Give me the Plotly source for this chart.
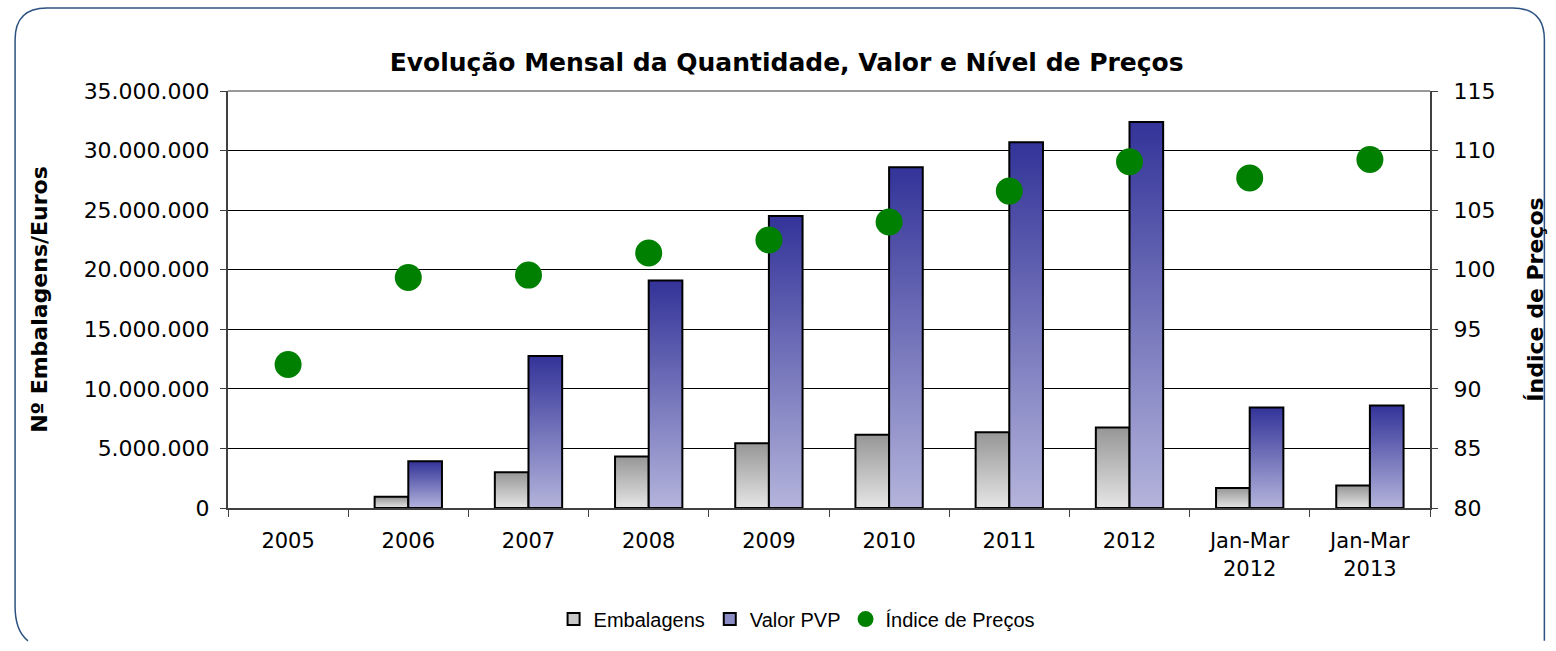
import plotly.graph_objects as go

# ---- data ----
categories = ["2005", "2006", "2007", "2008", "2009", "2010", "2011", "2012",
              "Jan-Mar<br>2012", "Jan-Mar<br>2013"]
embalagens = [0, 940000, 3000000, 4330000, 5440000, 6150000, 6350000, 6760000, 1680000, 1880000]
valor_pvp = [0, 3920000, 12750000, 19100000, 24500000, 28600000, 30700000, 32400000, 8440000, 8610000]
indice_precos = [92.05, 99.35, 99.55, 101.4, 102.5, 104.0, 106.6, 109.06, 107.7, 109.25]

left_ticks = [0, 5000000, 10000000, 15000000, 20000000, 25000000, 30000000, 35000000]
right_ticks = [80, 85, 90, 95, 100, 105, 110, 115]

# ---- styling ----
FONT = "DejaVu Sans"
BAR_W = 0.28
gray_scale = [[0, "#e6e6e6"], [1, "#969696"]]
blue_scale = [[0, "#b4b4dc"], [1, "#333399"]]

fig = go.Figure()


def add_bars(values, offset, name, scale, legend_color):
    # legend-only entry (square icon)
    fig.add_trace(go.Bar(
        x=[None], y=[None], name=name, legendgroup=name,
        marker=dict(color=legend_color, line=dict(color="#000000", width=2)),
    ))
    for i, v in enumerate(values):
        if v <= 0:
            continue
        x0 = i + offset
        x1 = x0 + BAR_W
        fig.add_trace(go.Scatter(
            x=[x0, x0, x1, x1, x0], y=[0, v, v, 0, 0],
            mode="lines", fill="toself",
            fillgradient=dict(type="vertical", colorscale=scale),
            fillcolor=legend_color,
            line=dict(color="#000000", width=2),
            name=name, legendgroup=name, showlegend=False,
            hovertemplate=f"{categories[i]}: {v:,}<extra>{name}</extra>",
            xaxis="x", yaxis="y",
        ))


add_bars(embalagens, -BAR_W, "Embalagens", gray_scale, "#c8c8c8")
add_bars(valor_pvp, 0.0, "Valor PVP", blue_scale, "#8c8cc4")

fig.add_trace(go.Scatter(
    x=list(range(len(categories))), y=indice_precos,
    mode="markers", name="Índice de Preços",
    marker=dict(color="#008000", size=27, line=dict(width=0)),
    yaxis="y2",
))

# ---- layout geometry (reference pixels, compensated for page scaling) ----
W, H = 1556, 651
SX, SY = 1565 / 1556, 657 / 651


def fx(x):
    return x * SX


def fy(y):
    return y * SY


L = round(fx(227))
R = round(W - fx(1439))
T = round(fy(90))
B = round(H - fy(513))
PW, PH = W - L - R, H - T - B


def px(xp):
    return (fx(xp) - L) / PW


def py(yp):
    return (H - B - fy(yp)) / PH


def pt(xp, yp):
    return f"{px(xp):.5f},{py(yp):.5f}"


r = 32
x0b, y0b, x1b = 12, 6, 1554
border = (f"M {pt(25, 648)} Q {pt(x0b, 638)} {pt(x0b, 613)} "
          f"L {pt(x0b, y0b + r)} Q {pt(x0b, y0b)} {pt(x0b + r, y0b)} "
          f"L {pt(x1b - r, y0b)} Q {pt(x1b, y0b)} {pt(x1b, y0b + r)} "
          f"L {pt(x1b, 648)}")

fig.update_layout(
    width=W, height=H, autosize=False,
    margin=dict(l=L, r=R, t=T, b=B, pad=0),
    paper_bgcolor="white", plot_bgcolor="white",
    separators=",.",
    font=dict(family=FONT, size=21, color="#000000"),
    title=dict(
        text="<b>Evolução Mensal da Quantidade, Valor e Nível de Preços</b>",
        x=px(790), xanchor="center", xref="paper",
        y=1 - fy(62) / H, yanchor="middle",
        font=dict(family=FONT, size=25, color="#000000"),
    ),
    showlegend=True,
    legend=dict(
        orientation="h", x=px(800), xanchor="center", y=py(626), yanchor="middle",
        font=dict(family="Liberation Sans", size=20, color="#000000"),
        itemwidth=30, tracegroupgap=0,
    ),
    barmode="overlay",
    xaxis=dict(
        range=[-0.5, len(categories) - 0.5],
        tickvals=list(range(len(categories))), ticktext=categories,
        ticks="", showgrid=False, zeroline=False,
        showline=True, linecolor="#404040", linewidth=2,
        tickfont=dict(family=FONT, size=21),
        ticklabelstandoff=13,
        minor=dict(tickvals=[i - 0.5 for i in range(len(categories) + 1)],
                   ticks="outside", ticklen=7, tickcolor="#404040", tickwidth=1,
                   showgrid=False),
        fixedrange=True,
    ),
    yaxis=dict(
        range=[0, 35000000], tickvals=left_ticks, tickformat=",d",
        showgrid=True, gridcolor="#000000", gridwidth=1,
        zeroline=False, showline=True, linecolor="#404040", linewidth=2,
        ticks="outside", ticklen=6, tickcolor="#404040",
        tickfont=dict(family=FONT, size=22),
        ticklabelstandoff=6,
        title=dict(text="<b>Nº Embalagens/Euros</b>", standoff=30,
                   font=dict(family=FONT, size=22)),
    ),
    yaxis2=dict(
        range=[80, 115], tickvals=right_ticks, overlaying="y", side="right",
        showgrid=False, zeroline=False, showline=True, linecolor="#404040", linewidth=2,
        ticks="outside", ticklen=6, tickcolor="#404040",
        tickfont=dict(family=FONT, size=22),
        ticklabelstandoff=11,
        title=dict(text="<b>Índice de Preços</b>", standoff=33,
                   font=dict(family=FONT, size=22)),
    ),
    shapes=[
        dict(type="line", xref="paper", yref="paper", x0=0, x1=1, y0=1, y1=1,
             line=dict(color="#9a9a9a", width=2), layer="above"),
        dict(type="path", xref="paper", yref="paper", path=border,
             line=dict(color="#2c5282", width=1.5), layer="below"),
    ],
)

fig.write_html("out.html", config={"displayModeBar": False, "responsive": False},
               post_script="document.body.style.margin='0';document.body.style.overflow='hidden';")
